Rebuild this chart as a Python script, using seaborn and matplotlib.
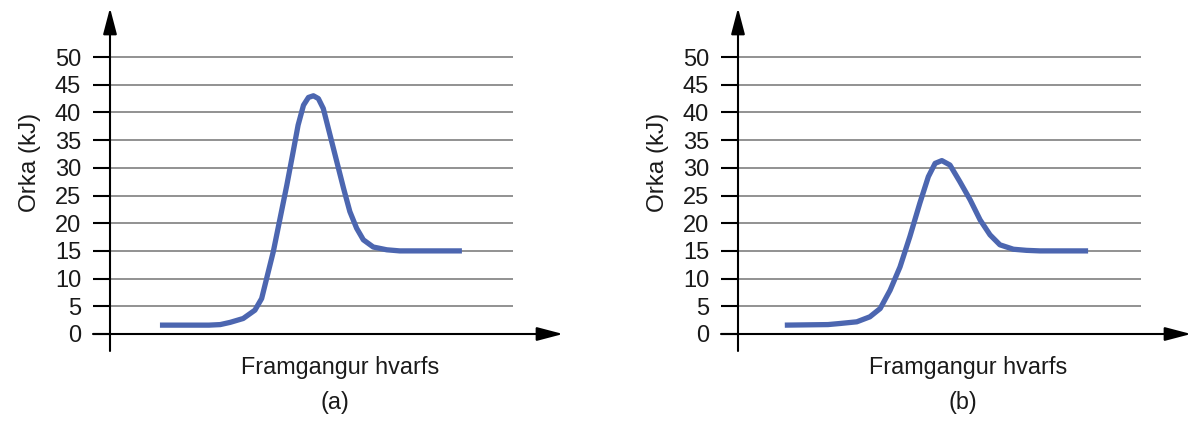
import numpy as np
import pandas as pd
import matplotlib
matplotlib.use("Agg")
import matplotlib.pyplot as plt
import seaborn as sns

# reading off the picture: x = progress of reaction (arbitrary units), y = energy in kJ
x_a = [1.11, 2.20, 2.45, 2.67, 2.96, 3.22, 3.37, 3.48, 3.63, 3.78, 3.93, 4.07, 4.18, 4.30,
       4.41, 4.52, 4.63, 4.74, 4.89, 5.04, 5.19, 5.33, 5.48, 5.63, 5.85, 6.15, 6.44, 7.82]
y_a = [1.6, 1.6, 1.7, 2.1, 2.8, 4.3, 6.4, 10.0, 14.9, 20.9, 26.9, 32.9, 37.7, 41.3,
       42.7, 43.0, 42.5, 40.7, 35.9, 31.1, 26.3, 22.1, 19.1, 17.0, 15.7, 15.2, 15.0, 15.0]

x_b = [1.04, 2.00, 2.27, 2.64, 2.93, 3.16, 3.38, 3.60, 3.82, 4.04, 4.23, 4.38, 4.53, 4.71,
       4.93, 5.16, 5.38, 5.60, 5.82, 6.12, 6.41, 6.71, 7.78]
y_b = [1.6, 1.7, 1.9, 2.2, 3.1, 4.6, 7.9, 12.1, 17.6, 23.6, 28.4, 30.8, 31.3, 30.5,
       27.5, 24.2, 20.6, 17.9, 16.1, 15.3, 15.1, 15.0, 15.0]

y_ticks = list(range(0, 51, 5))
panel_labels = ["(a)", "(b)"]
x_label = "Framgangur hvarfs"
y_label = "Orka (kJ)"

sns.set_style("white")
plt.rcParams["font.family"] = ["Liberation Sans", "DejaVu Sans"]

curve_color = "#4c66b0"
grid_color = "#7f7f7f"
text_color = "#1a1a1a"

fig = plt.figure(figsize=(12, 4.28), dpi=100)

# axes placed to line up with the reference (pixels -> figure fraction)
lefts = [93 / 1200, 721 / 1200]
curves = [(x_a, y_a), (x_b, y_b)]

xlim = (-17 / 45, 453 / 45)
ylim = (-17 / 5.54, 326 / 5.54)
grid_end = 403 / 45

for left, (xs, ys), tag in zip(lefts, curves, panel_labels):
    ax = fig.add_axes([left, 77 / 428, 470 / 1200, 343 / 428])
    ax.set_xlim(*xlim)
    ax.set_ylim(*ylim)
    for s in ax.spines.values():
        s.set_visible(False)

    # gridlines: grey to the right of the axis, black stubs to the left
    ax.hlines(y_ticks[1:], 0, grid_end, color=grid_color, lw=1.2, zorder=1)
    ax.hlines(y_ticks, xlim[0], 0, color="black", lw=1.5, zorder=2)

    # axes with arrow heads
    arrow = dict(arrowstyle="-|>,head_length=1.6,head_width=0.42", color="black",
                 lw=1.5, mutation_scale=10, shrinkA=0, shrinkB=0)
    ax.annotate("", xy=(0, ylim[1]), xytext=(0, ylim[0]), arrowprops=arrow,
                annotation_clip=False)
    ax.annotate("", xy=(xlim[1], 0), xytext=(xlim[0], 0), arrowprops=arrow,
                annotation_clip=False)

    df = pd.DataFrame({"x": xs, "y": ys})
    sns.lineplot(data=df, x="x", y="y", sort=False, ax=ax, color=curve_color,
                 linewidth=3.8, solid_joinstyle="round", solid_capstyle="butt", zorder=3)

    ax.set_xticks([])
    ax.set_yticks(y_ticks)
    ax.set_yticklabels([str(t) for t in y_ticks], fontsize=17, color=text_color)
    ax.tick_params(axis="y", length=0, pad=8.5)
    ax.set_xlabel("")
    ax.set_ylabel("")

    ax.text(5.11, -6.1, x_label, ha="center", va="center", fontsize=16.8,
            color=text_color, clip_on=False)
    ax.text(5.0, -12.4, tag, ha="center", va="center", fontsize=16.8,
            color=text_color, clip_on=False)
    ax.text(-1.78, 30.9, y_label, ha="center", va="center", rotation=90,
            fontsize=17.5, color=text_color, clip_on=False)

fig.savefig("out.png", dpi=100)
